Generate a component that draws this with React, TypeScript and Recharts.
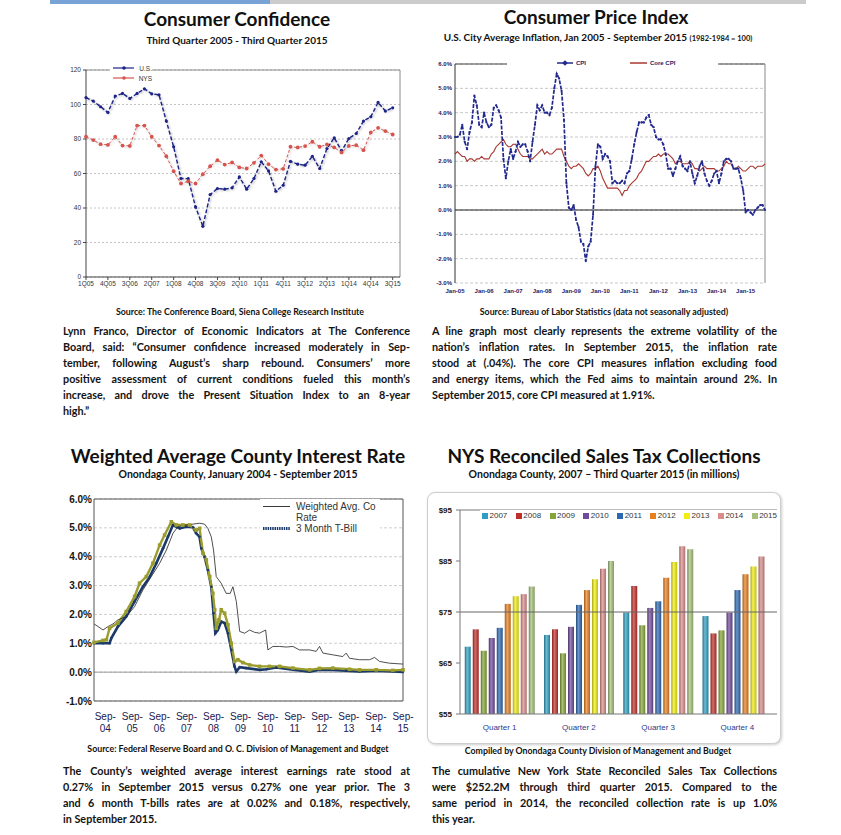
import React from 'react';
import { LineChart, Line, BarChart, Bar, XAxis, YAxis, CartesianGrid, ReferenceLine, Legend } from 'recharts';

const FONT_TEXT = 'Lato, "Open Sans", sans-serif';
const FONT_AXIS = '"Liberation Sans", Arial, sans-serif';

// Consumer confidence, quarterly 1Q05 - 3Q15
const confTickLabels = ['1Q05', '4Q05', '3Q06', '2Q07', '1Q08', '4Q08', '3Q09', '2Q10', '1Q11', '4Q11', '3Q12', '2Q13', '1Q14', '4Q14', '3Q15'];
const confUS = [104, 102, 98.7, 95.4, 104.9, 106.4, 103.5, 106.4, 109.1, 106.2, 105.6, 90.4, 75.5, 57.1, 57, 40.6, 29.4, 47.8, 51.3, 50.9, 51.7, 58, 50.9, 57.1, 66.8, 61.5, 49.7, 53.2, 67.1, 65.4, 64.8, 70, 62.9, 74.5, 80.7, 73.1, 80.3, 83.2, 90.4, 92.9, 101.2, 96.2, 98.1];
const confNYS = [81.3, 79.4, 77, 76.6, 81.3, 76.2, 76, 87.8, 87.8, 81.3, 76.2, 70, 61.3, 54.2, 55.5, 54.2, 59.6, 64.2, 67.7, 65.2, 66.4, 63.5, 62.9, 66.2, 70.4, 65.4, 62.3, 62.7, 75.5, 75.1, 75.9, 78.4, 75.5, 76.8, 75.1, 72.2, 76, 76.4, 73.5, 83.8, 86.5, 84.6, 82.6];

// CPI, monthly Jan 2005 - Sep 2015 (% change year over year)
const cpiTickLabels = ['Jan-05', 'Jan-06', 'Jan-07', 'Jan-08', 'Jan-09', 'Jan-10', 'Jan-11', 'Jan-12', 'Jan-13', 'Jan-14', 'Jan-15'];
const cpiAll = [
  3.0, 3.0, 3.1, 3.5, 2.8, 2.5, 3.2, 3.6, 4.7, 4.3, 3.5, 3.4,
  4.0, 3.6, 3.4, 3.5, 4.2, 4.3, 4.1, 3.8, 2.1, 1.3, 2.0, 2.5,
  2.1, 2.4, 2.8, 2.6, 2.7, 2.7, 2.4, 2.0, 2.8, 3.5, 4.3, 4.1,
  4.3, 4.0, 4.0, 3.9, 4.2, 5.0, 5.6, 5.4, 4.9, 3.7, 1.1, 0.1,
  0.0, 0.2, -0.4, -0.7, -1.3, -1.4, -2.1, -1.5, -1.3, -0.2, 1.8, 2.7,
  2.6, 2.1, 2.3, 2.2, 2.0, 1.1, 1.2, 1.1, 1.1, 1.2, 1.1, 1.5,
  1.6, 2.1, 2.7, 3.2, 3.6, 3.6, 3.6, 3.8, 3.9, 3.5, 3.4, 3.0,
  2.9, 2.9, 2.7, 2.3, 1.7, 1.7, 1.4, 1.7, 2.0, 2.2, 1.8, 1.7,
  1.6, 2.0, 1.5, 1.1, 1.4, 1.8, 2.0, 1.5, 1.2, 1.0, 1.2, 1.5,
  1.6, 1.1, 1.5, 2.0, 2.1, 2.1, 2.0, 1.7, 1.7, 1.7, 1.3, 0.8,
  -0.1, 0.0, -0.1, -0.2, 0.0, 0.1, 0.2, 0.2, 0.0,
];
const cpiCore = [
  2.3, 2.4, 2.3, 2.2, 2.2, 2.0, 2.1, 2.1, 2.0, 2.1, 2.1, 2.2,
  2.1, 2.1, 2.1, 2.3, 2.4, 2.6, 2.7, 2.8, 2.9, 2.7, 2.6, 2.6,
  2.7, 2.7, 2.5, 2.3, 2.2, 2.2, 2.2, 2.1, 2.1, 2.2, 2.3, 2.4,
  2.5, 2.3, 2.4, 2.3, 2.3, 2.4, 2.5, 2.5, 2.5, 2.2, 2.0, 1.8,
  1.7, 1.8, 1.8, 1.9, 1.8, 1.7, 1.5, 1.4, 1.5, 1.7, 1.7, 1.8,
  1.6, 1.3, 1.1, 0.9, 0.9, 0.9, 0.9, 0.9, 0.8, 0.6, 0.8, 0.8,
  1.0, 1.1, 1.2, 1.3, 1.5, 1.6, 1.8, 2.0, 2.0, 2.1, 2.2, 2.2,
  2.3, 2.2, 2.3, 2.3, 2.3, 2.2, 2.1, 1.9, 2.0, 2.0, 1.9, 1.9,
  1.9, 2.0, 1.9, 1.7, 1.7, 1.6, 1.7, 1.8, 1.7, 1.7, 1.7, 1.7,
  1.6, 1.6, 1.7, 1.8, 2.0, 1.9, 1.9, 1.7, 1.7, 1.8, 1.7, 1.6,
  1.6, 1.7, 1.8, 1.8, 1.7, 1.8, 1.8, 1.8, 1.9,
];

// Interest rates, x = months since Jan 2004
const rateTickLabels = ['Sep-04', 'Sep-05', 'Sep-06', 'Sep-07', 'Sep-08', 'Sep-09', 'Sep-10', 'Sep-11', 'Sep-12', 'Sep-13', 'Sep-14', 'Sep-15'];
const coRateMonths = [3, 4.8, 7, 9.2, 11.4, 13.6, 17.3, 21, 24.7, 28.4, 32.1, 35.1, 38, 40.2, 43.9, 46.9, 49.8, 52, 53.5, 55, 56, 57.2, 59.4, 61.6, 63.4, 64.6, 66.1, 67.6, 69.8, 72, 74.2, 76.4, 79.1, 80.1, 82.3, 85.3, 88.2, 91.2, 94.1, 98.6, 101.5, 103, 104.5, 108.9, 113.3, 114.8, 116.3, 120.7, 125.2, 127.4, 129.6, 134, 140];
const coRateValues = [1.67, 1.58, 1.46, 1.58, 1.67, 1.81, 1.93, 2.27, 2.85, 3.31, 3.77, 4.23, 4.81, 5.04, 5.1, 5.13, 5.16, 5.13, 4.98, 4.69, 4.23, 3.31, 3.08, 2.73, 2.73, 2.96, 2.45, 1.41, 1.35, 1.46, 1.38, 1.35, 1.46, 0.77, 0.89, 0.89, 0.87, 0.89, 0.77, 0.77, 0.72, 0.89, 0.66, 0.6, 0.54, 0.66, 0.48, 0.43, 0.43, 0.51, 0.37, 0.31, 0.28];
const tb3Months = [3, 7, 9.9, 10.7, 13.6, 17.3, 21, 24.7, 27.7, 30.6, 33.6, 35.8, 38, 41, 43.9, 46.9, 48.3, 49.8, 50.6, 52, 53.5, 55, 56, 56.8, 57.9, 59.4, 60.9, 62.4, 63.9, 65.3, 66.1, 67.6, 70.5, 76.4, 79.4, 83.8, 91.2, 98.6, 103, 108.9, 114.8, 120.7, 128.1, 135.5, 140];
const tb3Values = [1.0, 1.0, 1.0, 1.18, 1.58, 1.93, 2.45, 2.96, 3.3, 3.77, 4.29, 4.69, 5.1, 4.98, 5.04, 5.02, 4.81, 4.69, 4.29, 4.0, 3.54, 2.96, 2.04, 1.35, 1.46, 1.75, 1.7, 1.35, 0.77, 0.2, 0.02, 0.17, 0.14, 0.08, 0.1, 0.16, 0.08, 0.02, 0.08, 0.08, 0.05, 0.02, 0.05, 0.02, 0.01];
const tb6Months = [3, 7, 8.5, 9.9, 13.6, 17.3, 21, 23.2, 26.2, 29.1, 32.1, 34.3, 37.3, 39.5, 42.4, 45.4, 48.3, 49.8, 51.3, 52.8, 54.3, 55.7, 56.5, 57.2, 58.4, 59.4, 60.9, 62.4, 63.9, 65.3, 66.8, 69, 72, 76.4, 80.8, 85.3, 91.2, 98.6, 103, 108.9, 116.3, 120.7, 128.1, 135.5, 140];
const tb6Values = [1.03, 1.1, 1.12, 1.52, 1.7, 2.1, 2.62, 3.08, 3.31, 3.77, 4.4, 4.75, 5.21, 5.1, 5.1, 5.1, 4.92, 4.98, 4.12, 3.89, 3.31, 2.73, 2.16, 1.52, 1.81, 2.16, 2.04, 1.64, 1.0, 0.37, 0.43, 0.33, 0.25, 0.2, 0.2, 0.2, 0.14, 0.08, 0.13, 0.14, 0.1, 0.08, 0.08, 0.06, 0.08];

// Sales tax collections ($ millions)
const quarters = ['Quarter 1', 'Quarter 2', 'Quarter 3', 'Quarter 4'];
const taxYears = ['2007', '2008', '2009', '2010', '2011', '2012', '2013', '2014', '2015'];
const tax2007 = [68.2, 70.5, 74.9, 74.2];
const tax2008 = [71.6, 71.6, 80.1, 70.8];
const tax2009 = [67.4, 66.9, 72.4, 71.4];
const tax2010 = [69.9, 72.1, 75.8, 74.9];
const tax2011 = [71.9, 76.4, 77.1, 79.3];
const tax2012 = [76.6, 79.3, 81.7, 82.4];
const tax2013 = [78.1, 81.4, 84.8, 83.9];
const tax2014 = [78.5, 83.5, 87.9, 85.9];
const tax2015 = [80.0, 85.0, 87.3, null];

const taxColors = ['#2e9fc2', '#c0302b', '#86a537', '#704a9b', '#2d68b2', '#e8801f', '#f2ee12', '#d98c8a', '#a5c07c'];

const confData = confUS.map((us, i) => ({ q: i, us, nys: confNYS[i] }));
const confTicks = confTickLabels.map((_, i) => i * 3);
const cpiData = cpiAll.map((cpi, i) => ({ m: i, cpi, core: cpiCore[i] }));
const cpiTicks = cpiTickLabels.map((_, i) => i * 12);
const toPoints = (ms: number[], vs: number[]) => ms.map((m, i) => ({ m, v: vs[i] }));
const coRateData = toPoints(coRateMonths, coRateValues);
const tb3Data = toPoints(tb3Months, tb3Values);
const tb6Data = toPoints(tb6Months, tb6Values);
const rateTicks = rateTickLabels.map((_, i) => 8 + i * 12);
const taxSeries = [tax2007, tax2008, tax2009, tax2010, tax2011, tax2012, tax2013, tax2014, tax2015];
const taxData = quarters.map((q, qi) => {
  const row: Record<string, any> = { q };
  taxYears.forEach((y, yi) => { row[y] = taxSeries[yi][qi]; });
  return row;
});

function shade(hex: string, amt: number) {
  const n = parseInt(hex.slice(1), 16);
  const ch = [(n >> 16) & 255, (n >> 8) & 255, n & 255].map((c) =>
    Math.round(amt >= 0 ? c + (255 - c) * amt : c * (1 + amt))
  );
  return `rgb(${ch[0]},${ch[1]},${ch[2]})`;
}

const css = `
.conf-chart .recharts-line .recharts-curve { filter: drop-shadow(1.5px 1.5px 1px rgba(0,0,0,0.35)); }
`;

function Title({ cx, top, size, children }: { cx: number; top: number; size: number; children: React.ReactNode }) {
  return (
    <div style={{ position: 'absolute', left: cx - 250, top, width: 500, textAlign: 'center', fontFamily: FONT_TEXT, fontWeight: 700, fontSize: size, color: '#111', whiteSpace: 'nowrap', lineHeight: 1.2 }}>
      {children}
    </div>
  );
}

function Para({ lines, left, top, width }: { lines: string[]; left: number; top: number; width: number }) {
  return (
    <div style={{ position: 'absolute', left, top, width, fontFamily: FONT_TEXT, fontWeight: 700, fontSize: 10.8, lineHeight: '16px', color: '#141414' }}>
      {lines.map((l, i) => (
        <div key={i} style={{ whiteSpace: 'nowrap', textAlign: 'justify', textAlignLast: i < lines.length - 1 ? 'justify' : 'left' }}>{l}</div>
      ))}
    </div>
  );
}

const axisTick = (size: number, fill: string, weight = 400) => ({ fontSize: size, fill, fontFamily: FONT_AXIS, fontWeight: weight });

function ConfidenceChart() {
  return (
    <div className="conf-chart" style={{ position: 'absolute', left: 40, top: 55 }}>
      <LineChart width={380} height={250} data={confData} margin={{ top: 15, right: 20, bottom: 8, left: 0 }}>
        <CartesianGrid vertical={false} stroke="#c4c4c4" strokeDasharray="2 2" />
        <XAxis dataKey="q" type="number" domain={[0, 43]} ticks={confTicks} interval={0} tickFormatter={(v) => confTickLabels[v / 3]} height={20} stroke="#444" tickSize={3} tickMargin={1} tick={axisTick(6.5, '#333')} />
        <YAxis type="number" domain={[0, 120]} ticks={[0, 20, 40, 60, 80, 100, 120]} width={46} stroke="#444" tickSize={3} tickMargin={2} tick={axisTick(6.5, '#333')} />
        <ReferenceLine y={120} stroke="#8a8a8a" />
        <ReferenceLine x={43} stroke="#8a8a8a" />
        <Line dataKey="us" name="U.S." stroke="#1c2386" strokeWidth={1.4} strokeDasharray="4 2" dot={{ r: 1.6, fill: '#1c2386', stroke: '#1c2386', strokeWidth: 0 }} isAnimationActive={false} />
        <Line dataKey="nys" name="NYS" stroke="#d6534e" strokeWidth={1} strokeDasharray="3 2" dot={{ r: 1.9, fill: '#d6534e', stroke: '#d6534e', strokeWidth: 0 }} isAnimationActive={false} />
        <Legend verticalAlign="middle" align="center" layout="horizontal" wrapperStyle={{ left: 70, top: 7, width: 42 }}
          content={() => (
            <div style={{ background: '#fff', fontFamily: FONT_AXIS, fontSize: 6.5, color: '#333', padding: '1px 0' }}>
              {[['U.S.', '#1c2386'], ['NYS', '#d6534e']].map(([name, c]) => (
                <div key={name} style={{ display: 'flex', alignItems: 'center', height: 10 }}>
                  <svg width={26} height={6}><line x1={3} y1={3} x2={25} y2={3} stroke={c} strokeWidth={1.2} /><circle cx={14} cy={3} r={1.8} fill={c} /></svg>
                  <span style={{ marginLeft: 5 }}>{name}</span>
                </div>
              ))}
            </div>
          )} />
      </LineChart>
    </div>
  );
}

function CpiChart() {
  return (
    <div style={{ position: 'absolute', left: 415, top: 50 }}>
      <LineChart width={360} height={260} data={cpiData} margin={{ top: 14, right: 10, bottom: 7, left: 0 }}>
        <CartesianGrid vertical={false} stroke="#c8c8c8" strokeDasharray="3 2" />
        <XAxis dataKey="m" type="number" domain={[0, 128]} ticks={cpiTicks} interval={0} tickFormatter={(v) => cpiTickLabels[v / 12]} axisLine={false} tickLine={false} tickSize={6} tickMargin={0} height={20} tick={axisTick(6, '#1b2166', 700)} />
        <YAxis type="number" domain={[-3, 6]} ticks={[-3, -2, -1, 0, 1, 2, 3, 4, 5, 6]} width={40} stroke="#333" tickLine={false} tickSize={0} tickMargin={3} tickFormatter={(v) => `${v.toFixed(1)}%`} tick={axisTick(6, '#1b2166', 700)} />
        <ReferenceLine y={0} stroke="#222" />
        <ReferenceLine y={6} stroke="#444" />
        <ReferenceLine x={128} stroke="#888" />
        <Line dataKey="core" name="Core CPI" stroke="#a8372f" strokeWidth={1.1} dot={false} isAnimationActive={false} />
        <Line dataKey="cpi" name="CPI" stroke="#232a8f" strokeWidth={1.7} strokeDasharray="4 1.5" dot={{ r: 1.1, fill: '#232a8f', stroke: 'none' }} isAnimationActive={false} />
        <Legend verticalAlign="middle" align="center" layout="horizontal" wrapperStyle={{ left: 92, top: 9, width: 211 }}
          content={() => (
            <div style={{ background: '#fff', height: 11, position: 'relative', fontFamily: FONT_AXIS, fontSize: 6, fontWeight: 700, color: '#1b2166' }}>
              <div style={{ position: 'absolute', left: 50, top: 1, display: 'flex', alignItems: 'center' }}>
                <svg width={16} height={6}><line x1={0} y1={3} x2={16} y2={3} stroke="#232a8f" strokeWidth={1.5} /><rect x={6} y={1} width={4} height={4} fill="#232a8f" transform="rotate(45 8 3)" /></svg>
                <span style={{ marginLeft: 3 }}>CPI</span>
              </div>
              <div style={{ position: 'absolute', left: 123, top: 1, display: 'flex', alignItems: 'center' }}>
                <svg width={17} height={6}><line x1={0} y1={3} x2={17} y2={3} stroke="#a8372f" strokeWidth={1.5} /></svg>
                <span style={{ marginLeft: 3 }}>Core CPI</span>
              </div>
            </div>
          )} />
      </LineChart>
    </div>
  );
}

function SepTick(props: any) {
  const { x, y, payload } = props;
  const label = rateTickLabels[Math.round((payload.value - 8) / 12)] || '';
  const [a, b] = label.split('-');
  return (
    <g>
      <text x={x} y={y + 19} textAnchor="middle" fontSize={10} fontFamily={FONT_AXIS} fill="#1a2050">{a}-</text>
      <text x={x} y={y + 30.5} textAnchor="middle" fontSize={10} fontFamily={FONT_AXIS} fill="#1a2050">{b}</text>
    </g>
  );
}

function RateChart() {
  return (
    <div style={{ position: 'absolute', left: 50, top: 485 }}>
      <LineChart width={375} height={260} margin={{ top: 14, right: 22, bottom: 10, left: 0 }}>
        <CartesianGrid vertical={false} stroke="#cfcfcf" strokeDasharray="3 2" />
        <XAxis dataKey="m" type="number" domain={[3, 140]} ticks={rateTicks} interval={0} stroke="#555" tickLine={false} tickSize={0} tickMargin={0} height={34} tick={<SepTick />} allowDuplicatedCategory={false} />
        <YAxis type="number" domain={[-1, 6]} ticks={[-1, 0, 1, 2, 3, 4, 5, 6]} width={44} stroke="#555" tickLine={false} tickSize={0} tickMargin={2} tickFormatter={(v) => `${v.toFixed(1)}%`} tick={axisTick(10, '#151515', 700)} />
        <ReferenceLine y={0} stroke="#9a9a9a" />
        <ReferenceLine y={6} stroke="#555" />
        <ReferenceLine x={140} stroke="#555" />
        <Line data={tb3Data} dataKey="v" name="3 Month T-Bill" stroke="#1b3a6b" strokeWidth={2.6} dot={{ r: 1.3, fill: '#1b3a6b', stroke: 'none' }} isAnimationActive={false} />
        <Line data={tb6Data} dataKey="v" name="6 Month T-Bill" stroke="#9b9c2e" strokeWidth={2.4} dot={(p: any) => <rect key={p.index} x={p.cx - 1.8} y={p.cy - 1.8} width={3.6} height={3.6} fill="#9b9c2e" />} isAnimationActive={false} />
        <Line data={coRateData} dataKey="v" name="Weighted Avg. Co Rate" stroke="#222" strokeWidth={0.8} dot={false} isAnimationActive={false} />
        <Legend verticalAlign="middle" align="center" layout="horizontal" wrapperStyle={{ left: 210, top: 14, width: 120 }}
          content={() => (
            <div style={{ background: '#fff', fontFamily: FONT_AXIS, fontSize: 10, color: '#333', lineHeight: '11px', padding: '2px 0' }}>
              <div style={{ display: 'flex' }}>
                <svg width={30} height={11} style={{ flex: 'none' }}><line x1={3} y1={5.5} x2={30} y2={5.5} stroke="#222" strokeWidth={0.9} /></svg>
                <span style={{ marginLeft: 6 }}>Weighted Avg. Co<br />Rate</span>
              </div>
              <div style={{ display: 'flex' }}>
                <svg width={30} height={11} style={{ flex: 'none' }}><line x1={3} y1={5.5} x2={30} y2={5.5} stroke="#1b3a6b" strokeWidth={2.8} strokeDasharray="1.5 0.8" /></svg>
                <span style={{ marginLeft: 6 }}>3 Month T-Bill</span>
              </div>
            </div>
          )} />
      </LineChart>
    </div>
  );
}

function TaxChart() {
  return (
    <>
      <div style={{ position: 'absolute', left: 427, top: 492, width: 352, height: 250, border: '1px solid #cdcdcd', borderRadius: 8, boxShadow: '1px 1px 3px rgba(0,0,0,0.2)', background: '#fff' }} />
      <div style={{ position: 'absolute', left: 430, top: 495 }}>
        <BarChart width={348} height={245} data={taxData} margin={{ top: 15, right: 1, bottom: 6, left: 0 }} barCategoryGap="6%" barGap={2}>
          <defs>
            {taxYears.map((y, i) => (
              <linearGradient key={y} id={`tax-${y}`} x1="0" y1="0" x2="1" y2="0">
                <stop offset="0%" stopColor={shade(taxColors[i], -0.3)} />
                <stop offset="40%" stopColor={shade(taxColors[i], 0.3)} />
                <stop offset="100%" stopColor={shade(taxColors[i], -0.2)} />
              </linearGradient>
            ))}
          </defs>
          <XAxis dataKey="q" stroke="#777" tickLine={false} tickSize={4} tickMargin={6} height={20} tick={axisTick(8, '#2c3b8c')} />
          <YAxis type="number" domain={[55, 95]} ticks={[55, 65, 75, 85, 95]} width={30} stroke="#777" tickSize={4} tickMargin={4} tickFormatter={(v) => `$${v}`} tick={axisTick(8, '#151515', 700)} allowDataOverflow />
          <ReferenceLine y={75} stroke="#666" />
          <ReferenceLine y={95} stroke="#777" />
          {taxYears.map((y) => (
            <Bar key={y} dataKey={y} fill={`url(#tax-${y})`} isAnimationActive={false} />
          ))}
          <Legend verticalAlign="middle" align="center" layout="horizontal" wrapperStyle={{ left: 50, top: 15, width: 297 }}
            content={() => (
              <div style={{ background: '#fff', display: 'flex', justifyContent: 'space-between', fontFamily: FONT_AXIS, fontSize: 8, color: '#333', height: 11, alignItems: 'center', paddingLeft: 2 }}>
                {taxYears.map((y, i) => (
                  <span key={y} style={{ display: 'flex', alignItems: 'center' }}>
                    <span style={{ width: 6, height: 6, background: taxColors[i], marginRight: 1.5 }} />{y}
                  </span>
                ))}
              </div>
            )} />
        </BarChart>
      </div>
    </>
  );
}

export default function App() {
  return (
    <div style={{ position: 'absolute', left: 0, top: 0, width: 841, height: 835, background: '#fff', overflow: 'hidden' }}>
      <style>{css}</style>
      <div style={{ position: 'absolute', left: 50, top: 0, width: 220, height: 4, background: '#79a3d6' }} />
      <div style={{ position: 'absolute', left: 270, top: 0, width: 536, height: 4, background: '#cbcbcb' }} />

      <Title cx={237} top={8} size={19}>Consumer Confidence</Title>
      <Title cx={237} top={34} size={10}>Third Quarter 2005 -  Third Quarter 2015</Title>
      <Title cx={596} top={6} size={19}>Consumer Price Index</Title>
      <Title cx={598} top={31} size={10}>U.S. City Average Inflation, Jan 2005 - September 2015 <span style={{ fontSize: 7.5 }}>(1982-1984 = 100)</span></Title>

      <ConfidenceChart />
      <CpiChart />

      <Title cx={240} top={307} size={8.8}>Source: The Conference Board, Siena College Research Institute</Title>
      <Title cx={604} top={307} size={8.8}>Source:  Bureau of Labor Statistics (data not seasonally adjusted)</Title>

      <Para left={63} top={323} width={347} lines={[
        'Lynn Franco, Director of Economic Indicators at The Conference',
        'Board, said: \u201cConsumer confidence increased moderately in Sep-',
        'tember, following August\u2019s sharp rebound. Consumers\u2019 more',
        'positive assessment of current conditions fueled this month\u2019s',
        'increase, and drove the Present Situation Index to an 8-year',
        'high.\u201d',
      ]} />
      <Para left={432} top={323} width={345} lines={[
        'A line graph most clearly represents the extreme volatility of the',
        'nation\u2019s inflation rates.  In September 2015, the inflation rate',
        'stood at (.04%).  The core CPI measures inflation excluding food',
        'and energy items, which the Fed aims to maintain around 2%.  In',
        'September 2015, core CPI measured at 1.91%.',
      ]} />

      <Title cx={238} top={445} size={19}>Weighted Average County Interest Rate</Title>
      <Title cx={238} top={468} size={10.5}>Onondaga County, January 2004 - September 2015</Title>
      <Title cx={604} top={445} size={19}>NYS Reconciled Sales Tax Collections</Title>
      <Title cx={604} top={468} size={10.5}>Onondaga County, 2007 {'\u2013'}  Third Quarter 2015 (in millions)</Title>

      <RateChart />
      <TaxChart />

      <Title cx={238} top={744} size={8.8}>Source: Federal Reserve Board and O. C. Division of Management and Budget</Title>
      <Title cx={598} top={746} size={8.8}>Compiled by Onondaga County Division of Management and Budget</Title>

      <Para left={63} top={763} width={347} lines={[
        'The County\u2019s weighted average interest earnings rate stood at',
        '0.27% in September 2015 versus 0.27% one year prior.  The 3',
        'and 6 month T-bills rates are at 0.02% and 0.18%, respectively,',
        'in September 2015.',
      ]} />
      <Para left={432} top={763} width={345} lines={[
        'The cumulative New York State Reconciled Sales Tax Collections',
        'were $252.2M through third quarter 2015.  Compared to the',
        'same period in 2014, the reconciled collection rate is up 1.0%',
        'this year.',
      ]} />
    </div>
  );
}
